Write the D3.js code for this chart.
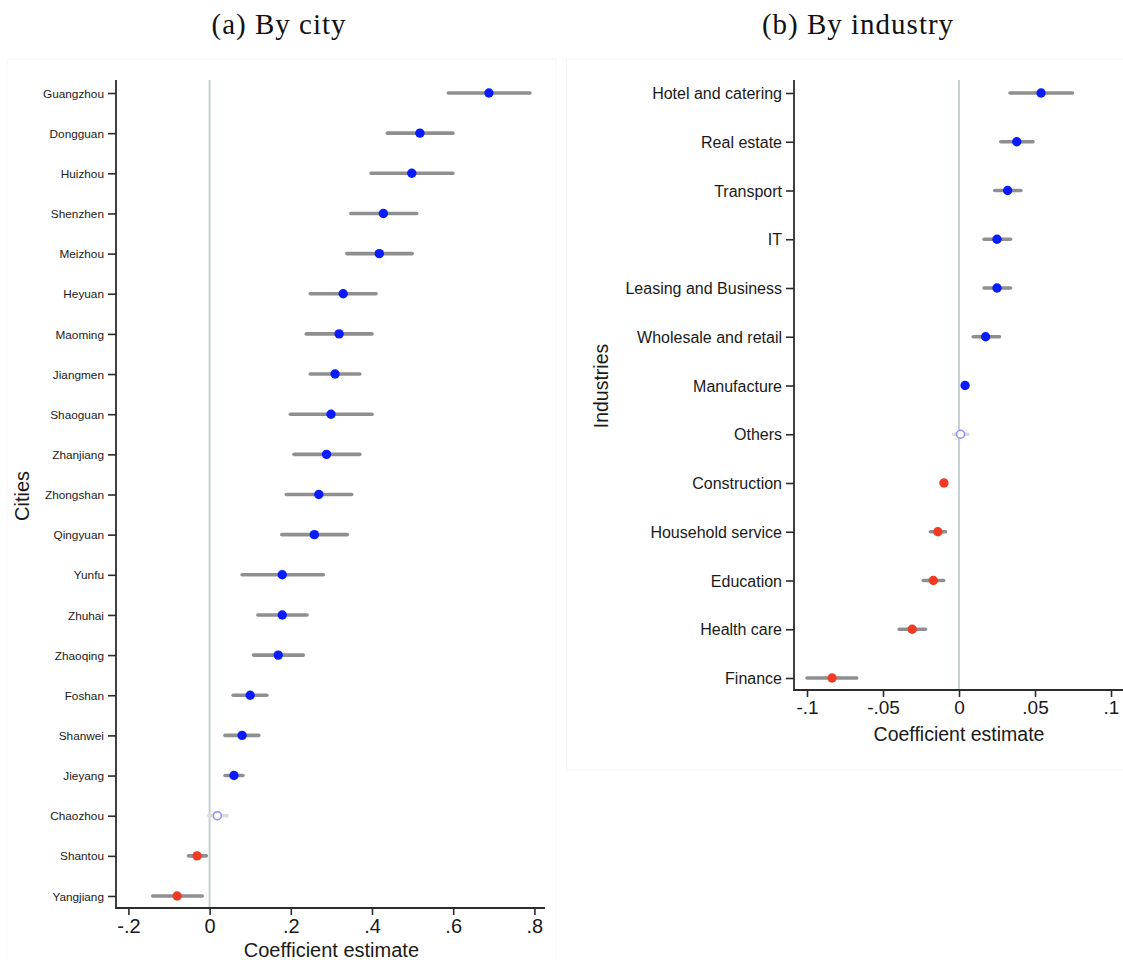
<!DOCTYPE html>
<html>
<head>
<meta charset="utf-8">
<script src="https://cdn.jsdelivr.net/npm/d3@7"></script>
<style>
  html, body { margin: 0; padding: 0; background: #fff; }
  svg { display: block; }
  .axis text { fill: #1a1a1a; font-family: "Liberation Sans", Arial, sans-serif; }
  .axis path, .axis line { stroke: #2b2b2b; }
</style>
</head>
<body>
<svg id="chart" width="1123" height="960"></svg>
<script>
// Panel (a): city-level coefficient estimates with 95% intervals
const cities = ["Guangzhou","Dongguan","Huizhou","Shenzhen","Meizhou","Heyuan","Maoming",
  "Jiangmen","Shaoguan","Zhanjiang","Zhongshan","Qingyuan","Yunfu","Zhuhai","Zhaoqing",
  "Foshan","Shanwei","Jieyang","Chaozhou","Shantou","Yangjiang"];
const cityEst = [0.688, 0.518, 0.498, 0.428, 0.418, 0.329, 0.319, 0.309, 0.299, 0.288, 0.269,
  0.258, 0.179, 0.179, 0.169, 0.100, 0.080, 0.060, 0.019, -0.031, -0.080];
const cityLo = [0.588, 0.438, 0.398, 0.348, 0.338, 0.248, 0.238, 0.248, 0.199, 0.208, 0.189,
  0.178, 0.080, 0.119, 0.108, 0.058, 0.038, 0.038, -0.002, -0.052, -0.140];
const cityHi = [0.789, 0.599, 0.599, 0.510, 0.499, 0.410, 0.400, 0.370, 0.400, 0.370, 0.350,
  0.339, 0.280, 0.240, 0.231, 0.141, 0.121, 0.082, 0.043, -0.008, -0.018];
const cityTicks = [-0.2, 0, 0.2, 0.4, 0.6, 0.8];

// Panel (b): industry-level coefficient estimates with 95% intervals
const industries = ["Hotel and catering","Real estate","Transport","IT","Leasing and Business",
  "Wholesale and retail","Manufacture","Others","Construction","Household service",
  "Education","Health care","Finance"];
const indEst = [0.054, 0.038, 0.032, 0.025, 0.025, 0.0175, 0.004, 0.001, -0.0099, -0.0139,
  -0.0169, -0.0308, -0.0835];
const indLo = [0.0336, 0.0275, 0.0235, 0.0165, 0.0165, 0.0094, 0.003, -0.0035, -0.0108, -0.0188,
  -0.0235, -0.0393, -0.1000];
const indHi = [0.0746, 0.0487, 0.0407, 0.0339, 0.0339, 0.0266, 0.005, 0.0060, -0.0090, -0.0089,
  -0.0101, -0.0221, -0.0673];
const indTicks = [-0.1, -0.05, 0, 0.05, 0.1];

const svg = d3.select("#chart");

// Stata-style tick labels: no leading zero, plain hyphen for negatives
const fmt = v => v === 0 ? "0"
  : d3.format(".2~f")(Math.abs(v)).replace(/^0\./, ".").replace(/^/, v < 0 ? "-" : "");

// faint panel frames
svg.append("rect").attr("x", 7).attr("y", 59).attr("width", 549).attr("height", 905)
  .attr("fill", "none").attr("stroke", "#f5f5f5").attr("stroke-width", 1);
svg.append("rect").attr("x", 566.5).attr("y", 59).attr("width", 560).attr("height", 711)
  .attr("fill", "none").attr("stroke", "#f5f5f5").attr("stroke-width", 1);

// titles
svg.append("text").attr("x", 279).attr("y", 34).attr("text-anchor", "middle")
  .attr("font-family", "'Liberation Serif', 'Times New Roman', serif").attr("font-size", 29)
  .attr("letter-spacing", 1).attr("fill", "#111").text("(a) By city");
svg.append("text").attr("x", 858).attr("y", 34).attr("text-anchor", "middle")
  .attr("font-family", "'Liberation Serif', 'Times New Roman', serif").attr("font-size", 29)
  .attr("letter-spacing", 1).attr("fill", "#111").text("(b) By industry");

function panel(cfg) {
  const g = svg.append("g");
  const x = d3.scaleLinear().domain(cfg.xDomain).range(cfg.xRange);
  const y = d3.scalePoint().domain(cfg.cats).range(cfg.yRange);

  // zero reference line
  g.append("line").attr("x1", x(0)).attr("x2", x(0))
    .attr("y1", cfg.top).attr("y2", cfg.bottom)
    .attr("stroke", "#c6d2d2").attr("stroke-width", 2);

  // y axis
  const ya = g.append("g").attr("class", "axis")
    .attr("transform", `translate(${cfg.left},0)`)
    .call(d3.axisLeft(y).tickSize(8).tickPadding(4));
  ya.select(".domain").remove();
  ya.selectAll(".tick line").attr("stroke-width", 1.6);
  ya.selectAll(".tick text").attr("font-size", cfg.catFont).attr("dy", "0.35em");
  g.append("line").attr("x1", cfg.left).attr("x2", cfg.left)
    .attr("y1", cfg.top).attr("y2", cfg.bottom + 0.8)
    .attr("stroke", "#2b2b2b").attr("stroke-width", 1.8);

  // x axis
  const xa = g.append("g").attr("class", "axis")
    .attr("transform", `translate(0,${cfg.bottom})`)
    .call(d3.axisBottom(x).tickValues(cfg.ticks).tickFormat(fmt).tickSize(7).tickPadding(4));
  xa.select(".domain").remove();
  xa.selectAll(".tick line").attr("stroke-width", 1.6);
  xa.selectAll(".tick text").attr("font-size", cfg.tickFont);
  g.append("line").attr("x1", cfg.left - 0.8).attr("x2", cfg.right)
    .attr("y1", cfg.bottom).attr("y2", cfg.bottom)
    .attr("stroke", "#2b2b2b").attr("stroke-width", 1.8);

  // axis titles
  g.append("text").attr("x", x(0.5 * (cfg.xDomain[0] + cfg.xDomain[1])))
    .attr("y", cfg.xTitleY).attr("text-anchor", "middle")
    .attr("font-family", "'Liberation Sans', Arial, sans-serif").attr("font-size", cfg.titleFont)
    .attr("fill", "#1a1a1a").text("Coefficient estimate");
  g.append("text")
    .attr("transform", `translate(${cfg.yTitleX},${cfg.yTitleY}) rotate(-90)`)
    .attr("text-anchor", "middle")
    .attr("font-family", "'Liberation Sans', Arial, sans-serif").attr("font-size", cfg.titleFont)
    .attr("fill", "#1a1a1a").text(cfg.yTitle);

  const rows = cfg.cats.map((c, i) => ({ c, est: cfg.est[i], lo: cfg.lo[i], hi: cfg.hi[i] }));
  const kind = d => d.lo > 0 ? "pos" : (d.hi < 0 ? "neg" : "ns");

  // confidence intervals
  g.selectAll("line.ci").data(rows).join("line").attr("class", "ci")
    .attr("x1", d => x(d.lo)).attr("x2", d => x(d.hi))
    .attr("y1", d => y(d.c)).attr("y2", d => y(d.c))
    .attr("stroke", d => kind(d) === "ns" ? "#dcdcdc" : "#8f8f8f")
    .attr("stroke-width", 3.6).attr("stroke-linecap", "round");

  // point estimates
  g.selectAll("circle.pt").data(rows).join("circle").attr("class", "pt")
    .attr("cx", d => x(d.est)).attr("cy", d => y(d.c))
    .attr("r", d => kind(d) === "ns" ? 4 : 4.7)
    .attr("fill", d => kind(d) === "pos" ? "#0a1bff" : kind(d) === "neg" ? "#f03a24" : "#ffffff")
    .attr("stroke", d => kind(d) === "ns" ? "#8a8cff" : "none")
    .attr("stroke-width", 1.5);
}

panel({
  cats: cities, est: cityEst, lo: cityLo, hi: cityHi, ticks: cityTicks,
  xDomain: [-0.2, 0.8], xRange: [128.4, 534.4], yRange: [93, 896],
  left: 116, right: 545, top: 80, bottom: 908,
  catFont: 11.8, tickFont: 20, titleFont: 20,
  xTitleY: 957, yTitle: "Cities", yTitleX: 29, yTitleY: 496
});

panel({
  cats: industries, est: indEst, lo: indLo, hi: indHi, ticks: indTicks,
  xDomain: [-0.1, 0.1], xRange: [807, 1111], yRange: [93, 678],
  left: 794, right: 1123, top: 80, bottom: 690,
  catFont: 16, tickFont: 19, titleFont: 19.5,
  xTitleY: 741, yTitle: "Industries", yTitleX: 608, yTitleY: 386
});
</script>
</body>
</html>
